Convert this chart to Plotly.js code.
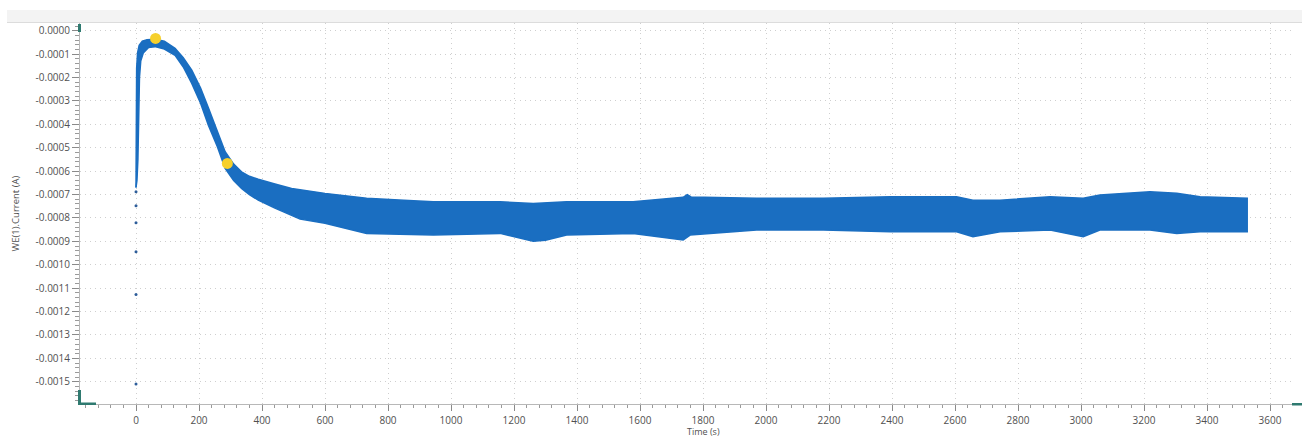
<!DOCTYPE html>
<html>
<head>
<meta charset="utf-8">
<script src="https://cdn.plot.ly/plotly-3.0.1.min.js"></script>
<style>
  html, body { margin: 0; padding: 0; background: #ffffff; }
  #chart { width: 1302px; height: 438px; }
</style>
</head>
<body>
<div id="chart"></div>
<script>
// Upper edge of the current band (time in s, current in A)
const upperTime = [0, 0.5, 2, 5, 10, 20, 35, 60, 90, 124, 150, 177, 205, 230, 258, 283, 310, 335, 360, 388, 441, 494, 600, 732, 850, 944, 1156, 1261, 1367, 1578, 1737, 1750, 1762, 1970, 2182, 2394, 2605, 2657, 2743, 2902, 3007, 3060, 3219, 3304, 3378, 3530];
const upperCurrent = [-0.000670, -0.000400, -0.000160, -0.000095, -0.000062, -0.000045, -0.000038, -0.000036, -0.000045, -0.000075, -0.000115, -0.000168, -0.000245, -0.000330, -0.000425, -0.000517, -0.000570, -0.000603, -0.000622, -0.000635, -0.000655, -0.000674, -0.000695, -0.000716, -0.000724, -0.000731, -0.000731, -0.000738, -0.000731, -0.000731, -0.000712, -0.000700, -0.000710, -0.000716, -0.000716, -0.000709, -0.000709, -0.000724, -0.000724, -0.000709, -0.000716, -0.000702, -0.000688, -0.000695, -0.000709, -0.000716];

// Lower edge of the current band
const lowerTime = [0, 3, 6, 8, 11, 15, 23, 40, 60, 90, 124, 150, 177, 205, 230, 258, 283, 310, 335, 360, 388, 441, 494, 521, 600, 732, 944, 1156, 1261, 1300, 1367, 1578, 1737, 1759, 1970, 2182, 2394, 2605, 2657, 2743, 2902, 3007, 3060, 3219, 3304, 3378, 3530];
const lowerCurrent = [-0.000670, -0.000640, -0.000550, -0.000350, -0.000200, -0.000130, -0.000095, -0.000072, -0.000068, -0.000078, -0.000105, -0.000155, -0.000225, -0.000310, -0.000405, -0.000495, -0.000588, -0.000640, -0.000674, -0.000700, -0.000724, -0.000758, -0.000788, -0.000805, -0.000823, -0.000866, -0.000873, -0.000866, -0.000900, -0.000895, -0.000873, -0.000866, -0.000894, -0.000873, -0.000852, -0.000852, -0.000859, -0.000859, -0.000880, -0.000859, -0.000852, -0.000880, -0.000852, -0.000852, -0.000866, -0.000859, -0.000859];

// Isolated samples at t = 0
const startTime = [0, 0, 0, 0, 0, 0];
const startCurrent = [-0.000688, -0.000748, -0.000821, -0.000944, -0.001127, -0.001510];

// Highlighted (yellow) points
const markTime = [62, 290];
const markCurrent = [-0.000033, -0.000567];

// Axis ticks
const xTickVals = [0, 200, 400, 600, 800, 1000, 1200, 1400, 1600, 1800, 2000, 2200, 2400, 2600, 2800, 3000, 3200, 3400, 3600];
const xTickText = ["0", "200", "400", "600", "800", "1000", "1200", "1400", "1600", "1800", "2000", "2200", "2400", "2600", "2800", "3000", "3200", "3400", "3600"];
const yTickVals = [0, -0.0001, -0.0002, -0.0003, -0.0004, -0.0005, -0.0006, -0.0007, -0.0008, -0.0009, -0.0010, -0.0011, -0.0012, -0.0013, -0.0014, -0.0015];
const yTickText = ["0.0000", "-0.0001", "-0.0002", "-0.0003", "-0.0004", "-0.0005", "-0.0006", "-0.0007", "-0.0008", "-0.0009", "-0.0010", "-0.0011", "-0.0012", "-0.0013", "-0.0014", "-0.0015"];

const bandColor = '#1a6ec1';
const teal = '#2f7a70';

const traces = [
  { x: upperTime, y: upperCurrent, type: 'scatter', mode: 'lines',
    line: { color: bandColor, width: 1.5 }, hoverinfo: 'skip', showlegend: false },
  { x: lowerTime, y: lowerCurrent, type: 'scatter', mode: 'lines', fill: 'tonexty',
    fillcolor: bandColor, line: { color: bandColor, width: 1.5 }, hoverinfo: 'skip', showlegend: false },
  { x: startTime, y: startCurrent, type: 'scatter', mode: 'markers',
    marker: { color: '#2d5d9a', size: 3 }, showlegend: false },
  { x: markTime, y: markCurrent, type: 'scatter', mode: 'markers',
    marker: { color: '#f6d02c', size: 11 }, showlegend: false }
];

const W = 1302, H = 438, L = 80, R = 9, T = 23, B = 34;
const pw = W - L - R, ph = H - T - B;
const px = v => (v - L) / pw;
const py = v => (H - B - v) / ph;

const gridDash = '1px,4px';

const layout = {
  width: W, height: H,
  margin: { l: L, r: R, t: T, b: B },
  paper_bgcolor: '#ffffff', plot_bgcolor: '#ffffff',
  font: { family: '"Open Sans", "Noto Sans", sans-serif', size: 10, color: '#505050' },
  showlegend: false,
  xaxis: {
    range: [-177.8, 3673],
    tickvals: xTickVals, ticktext: xTickText,
    showgrid: true, gridcolor: '#cfcfcf', griddash: gridDash, gridwidth: 1,
    zeroline: false, showline: true, linecolor: '#b8b8b8', linewidth: 1,
    ticks: 'outside', ticklen: 6, tickcolor: '#8a8a8a', tickwidth: 1,
    ticklabelstandoff: 1,
    minor: { dtick: 40, tick0: 0, ticks: 'outside', ticklen: 3, tickcolor: '#9a9a9a', showgrid: false },
    tickfont: { size: 10, color: '#505050' }
  },
  yaxis: {
    range: [-0.001595, 0.000033],
    tickvals: yTickVals, ticktext: yTickText,
    showgrid: true, gridcolor: '#cfcfcf', griddash: gridDash, gridwidth: 1,
    zeroline: false, showline: true, linecolor: '#b8b8b8', linewidth: 1,
    ticks: 'outside', ticklen: 7, tickcolor: '#8a8a8a', tickwidth: 1,
    minor: { dtick: 0.00002, tick0: 0, ticks: 'outside', ticklen: 4, tickcolor: '#9a9a9a', showgrid: false },
    tickfont: { size: 10, color: '#505050' }
  },
  annotations: [
    { text: 'Time (s)', xref: 'x', x: 1800, yref: 'paper', y: 0, yshift: -27.5,
      xanchor: 'center', yanchor: 'middle', showarrow: false,
      font: { size: 9, color: '#505050' } },
    { text: 'WE(1).Current (A)', xref: 'paper', x: 0, xshift: -65, yref: 'paper', y: 0.5,
      xanchor: 'center', yanchor: 'middle', textangle: -90, showarrow: false,
      font: { size: 9.5, color: '#505050' } }
  ],
  shapes: [
    { type: 'rect', xref: 'paper', yref: 'paper', x0: px(7), x1: px(1302), y0: py(22), y1: py(10),
      fillcolor: '#f3f3f3', line: { width: 0 }, layer: 'below' },
    { type: 'line', xref: 'paper', yref: 'paper', x0: px(7), x1: px(1302), y0: py(22.5), y1: py(22.5),
      line: { color: '#dcdcdc', width: 1 } },
    { type: 'rect', xref: 'paper', yref: 'paper', x0: px(78), x1: px(81), y0: py(32), y1: py(24),
      fillcolor: teal, line: { width: 0 } },
    { type: 'rect', xref: 'paper', yref: 'paper', x0: px(78), x1: px(81), y0: py(405), y1: py(390),
      fillcolor: teal, line: { width: 0 } },
    { type: 'rect', xref: 'paper', yref: 'paper', x0: px(78), x1: px(96), y0: py(405), y1: py(402.5),
      fillcolor: teal, line: { width: 0 } },
    { type: 'rect', xref: 'paper', yref: 'paper', x0: px(1292), x1: px(1302), y0: py(405.5), y1: py(403),
      fillcolor: teal, line: { width: 0 } }
  ]
};

Plotly.newPlot('chart', traces, layout, { displayModeBar: false, staticPlot: true });
</script>
</body>
</html>
